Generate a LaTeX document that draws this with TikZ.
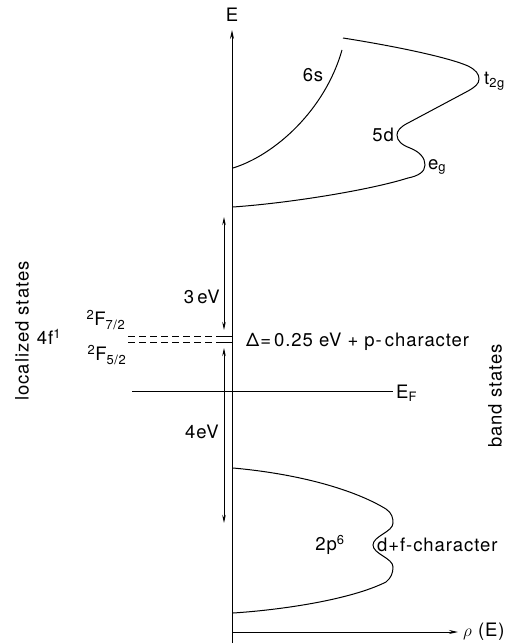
\documentclass[tikz,border=0pt]{standalone}
\usepackage{fontspec}
\setmainfont{TeX Gyre Heros}[LetterSpace=5]
\usetikzlibrary{arrows.meta}
\tikzset{
  lbl/.style={inner sep=0pt, font=\fontsize{18.5}{20}\selectfont},
  curve/.style={line width=1pt},
  axis/.style={line width=1pt, -{Stealth[length=9pt,width=4pt]}},
  dbl/.style={line width=0.9pt, {Stealth[length=8pt,width=3.5pt]}-{Stealth[length=8pt,width=3.5pt]}},
  lvl/.style={line width=0.9pt, dash pattern=on 7pt off 4pt},
}
\begin{document}
\begin{tikzpicture}[x=1pt,y=-1pt]
\useasboundingbox (0,0) rectangle (513,644);
% axes
\coordinate (o) at (232,643);
\coordinate (etop) at (232,30);
\coordinate (rho0) at (232,632);
\coordinate (rho1) at (458,632);
\draw[axis] (o) -- (etop);
\draw[axis] (rho0) -- (rho1);
\node[lbl] (E) at (232,15) {E};
\node[lbl, anchor=west] (rho) at (463,632) {$\rho$ (E)};
% 6s band
\draw[curve] (233,168) .. controls (275,155) and (325,110) .. (342,50);
\node[lbl] (s6) at (313,75) {6s};
% 5d band
\draw[curve] (343,38) .. controls (400,47) and (450,58) .. (468,66)
  .. controls (476,70) and (479,74) .. (479,79)
  .. controls (479,84) and (475,87) .. (468,91)
  -- (408,123)
  .. controls (400,127) and (397,131) .. (397,135)
  .. controls (397,141) and (402,145) .. (410,148)
  .. controls (420,152) and (425,158) .. (425,165)
  .. controls (425,172) and (418,176) .. (408,178)
  .. controls (370,190) and (290,203) .. (233,207);
\node[lbl, anchor=west] (t2g) at (484,81) {t\textsubscript{2g}};
\node[lbl, anchor=east] (d5) at (394,135) {5d};
\node[lbl, anchor=west] (eg) at (428,167) {e\textsubscript{g}};
% 2p band
\draw[curve] (233,468) .. controls (300,474) and (355,490) .. (386,509)
  .. controls (392,513) and (393,518) .. (393,523)
  .. controls (393,532) and (373,536) .. (373,545)
  .. controls (373,554) and (393,558) .. (393,567)
  .. controls (393,573) and (391,578) .. (386,582)
  .. controls (350,600) and (280,610) .. (233,613);
\node[lbl] (p2) at (330,545) {2p\textsuperscript{6}};
\node[lbl, anchor=west] (df) at (377,545) {d+f-character};
% Fermi level
\coordinate (ef0) at (132,391);
\coordinate (ef1) at (393,391);
\draw[line width=0.9pt] (ef0) -- (ef1);
\node[lbl, anchor=west] (EF) at (396,393) {E\textsubscript{F}};
% 4f levels
\coordinate (a0) at (128,336);
\coordinate (a1) at (221,336);
\coordinate (a2) at (232,336);
\coordinate (b0) at (128,342);
\coordinate (b1) at (221,342);
\coordinate (b2) at (232,342);
\draw[lvl] (a0) -- (a1);
\draw[lvl] (b0) -- (b1);
\draw[line width=0.9pt] (a1) -- (a2);
\draw[line width=0.9pt] (b1) -- (b2);
% energy arrows
\coordinate (u0) at (224,217);
\coordinate (u1) at (224,330);
\coordinate (l0) at (224,348);
\coordinate (l1) at (224,523);
\draw[dbl] (u0) -- (u1);
\draw[dbl] (l0) -- (l1);
\node[lbl, anchor=east] (e3) at (220,297) {3\,eV};
\node[lbl, anchor=east] (e4) at (219,432) {4eV};
% labels
\node[lbl, anchor=west] (delta) at (246,342) {Δ=\,0.25 eV + p-\,character};
\node[lbl] (F7) at (106,320) {\textsuperscript{2}F\textsubscript{7/2}};
\node[lbl] (F5) at (107,355) {\textsuperscript{2}F\textsubscript{5/2}};
\node[lbl] (f4) at (49,337) {4f\textsuperscript{1}};
\node[lbl, rotate=90] (loc) at (22,331) {localized\ states};
\node[lbl, rotate=90] (band) at (495,396) {band\ states};
\end{tikzpicture}
\end{document}
